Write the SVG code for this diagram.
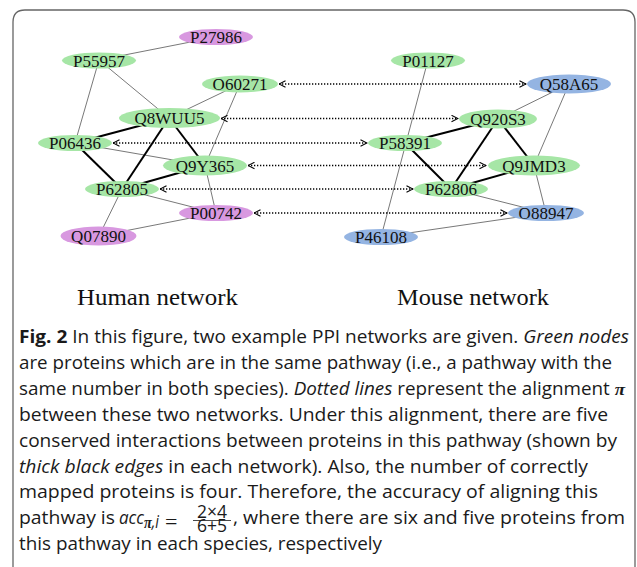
<svg xmlns="http://www.w3.org/2000/svg" width="637" height="567" viewBox="0 0 637 567">
<defs>
<style>
.g{fill:#a6e6a6}
.p{fill:#d898e0}
.b{fill:#94b4e2}
.lbl{font-family:"Liberation Serif","DejaVu Serif",serif;font-size:17px;text-anchor:middle;fill:#111}
.thin{stroke:#555;stroke-width:0.8;fill:none}
.thick{stroke:#000;stroke-width:2;fill:none}
.dot{stroke:#000;stroke-width:1.5;stroke-dasharray:1.3 1.7;fill:none;marker-start:url(#ah);marker-end:url(#ah)}
.net{font-family:"Liberation Serif","DejaVu Serif",serif;font-size:23px;fill:#111}
.cap{font-family:"Open Sans","Noto Sans","Liberation Sans",sans-serif;font-size:17.5px;fill:#1a1a1a}
.it{font-style:italic}
.bd{font-weight:bold}
.mth{font-family:"Liberation Serif",serif;font-weight:bold;font-style:italic}
</style>
<marker id="ah" viewBox="0 0 8 8" refX="7.5" refY="4" markerWidth="8" markerHeight="8" markerUnits="userSpaceOnUse" orient="auto-start-reverse">
<path d="M1,0.8 L7.5,4 L1,7.2" fill="none" stroke="#000" stroke-width="1.1"/>
</marker>
</defs>
<rect width="637" height="567" fill="#fff"/>
<path d="M13,567 V22 Q13,10 25,10 H623 Q635,10 635,22 V567" fill="none" stroke="#666" stroke-width="1.3"/>

<g id="connectors">
<line class="thin" x1="99" y1="60" x2="216" y2="37"/>
<line class="thin" x1="99" y1="60" x2="75" y2="143"/>
<line class="thin" x1="99" y1="60" x2="169" y2="118"/>
<line class="thin" x1="240" y1="84" x2="169" y2="118"/>
<line class="thin" x1="240" y1="84" x2="205" y2="165.5"/>
<line class="thin" x1="205" y1="165.5" x2="216" y2="213"/>
<line class="thin" x1="75" y1="143" x2="205" y2="165.5"/>
<line class="thin" x1="122" y1="189" x2="216" y2="213"/>
<line class="thin" x1="122" y1="189" x2="99" y2="236"/>
<line class="thin" x1="99" y1="236" x2="216" y2="213"/>
<line class="thick" x1="169" y1="118" x2="75" y2="143"/>
<line class="thick" x1="169" y1="118" x2="122" y2="189"/>
<line class="thick" x1="169" y1="118" x2="205" y2="165.5"/>
<line class="thick" x1="75" y1="143" x2="122" y2="189"/>
<line class="thick" x1="205" y1="165.5" x2="122" y2="189"/>
<line class="thin" x1="428" y1="60" x2="381" y2="237"/>
<line class="thin" x1="569" y1="84" x2="498" y2="119"/>
<line class="thin" x1="569" y1="84" x2="534" y2="165.5"/>
<line class="thin" x1="534" y1="165.5" x2="546" y2="213"/>
<line class="thin" x1="451" y1="189" x2="546" y2="213"/>
<line class="thin" x1="381" y1="237" x2="546" y2="213"/>
<line class="thick" x1="498" y1="119" x2="405" y2="143"/>
<line class="thick" x1="498" y1="119" x2="451" y2="189"/>
<line class="thick" x1="498" y1="119" x2="534" y2="165.5"/>
<line class="thick" x1="405" y1="143" x2="451" y2="189"/>
<line class="thick" x1="534" y1="165.5" x2="451" y2="189"/>
<line class="dot" x1="279" y1="84" x2="526" y2="84"/>
<line class="dot" x1="221" y1="118.5" x2="458" y2="118.5"/>
<line class="dot" x1="113" y1="143" x2="367" y2="143"/>
<line class="dot" x1="248" y1="165.5" x2="486" y2="165.5"/>
<line class="dot" x1="160" y1="189" x2="413" y2="189"/>
<line class="dot" x1="254" y1="213" x2="507" y2="213"/>
</g>

<g id="P27986"><ellipse class="p" cx="216" cy="37" rx="37" ry="8"/><text class="lbl" x="216" y="43">P27986</text></g>
<g id="P55957"><ellipse class="g" cx="99" cy="60.5" rx="37" ry="8"/><text class="lbl" x="99" y="66.5">P55957</text></g>
<g id="O60271"><ellipse class="g" cx="240" cy="84" rx="38" ry="8.5"/><text class="lbl" x="240" y="90">O60271</text></g>
<g id="Q8WUU5"><ellipse class="g" cx="169.5" cy="118" rx="50.5" ry="10"/><text class="lbl" x="169.5" y="124">Q8WUU5</text></g>
<g id="P06436"><ellipse class="g" cx="75" cy="143" rx="37" ry="8"/><text class="lbl" x="75" y="149">P06436</text></g>
<g id="Q9Y365"><ellipse class="g" cx="205" cy="165.5" rx="42" ry="10"/><text class="lbl" x="205" y="171.5">Q9Y365</text></g>
<g id="P62805"><ellipse class="g" cx="122" cy="189" rx="37" ry="8"/><text class="lbl" x="122" y="195">P62805</text></g>
<g id="P00742"><ellipse class="p" cx="216" cy="213" rx="37" ry="8"/><text class="lbl" x="216" y="219">P00742</text></g>
<g id="Q07890"><ellipse class="p" cx="98.5" cy="236" rx="38" ry="9.5"/><text class="lbl" x="98.5" y="242">Q07890</text></g>

<g id="P01127"><ellipse class="g" cx="428" cy="60.5" rx="37" ry="8"/><text class="lbl" x="428" y="66.5">P01127</text></g>
<g id="Q58A65"><ellipse class="b" cx="569" cy="84" rx="42" ry="9.5"/><text class="lbl" x="569" y="90">Q58A65</text></g>
<g id="Q920S3"><ellipse class="g" cx="498" cy="119" rx="39" ry="9.5"/><text class="lbl" x="498" y="125">Q920S3</text></g>
<g id="P58391"><ellipse class="g" cx="405" cy="143" rx="37" ry="8"/><text class="lbl" x="405" y="149">P58391</text></g>
<g id="Q9JMD3"><ellipse class="g" cx="534" cy="165.5" rx="46" ry="10"/><text class="lbl" x="534" y="171.5">Q9JMD3</text></g>
<g id="P62806"><ellipse class="g" cx="451" cy="189" rx="37" ry="8"/><text class="lbl" x="451" y="195">P62806</text></g>
<g id="O88947"><ellipse class="b" cx="546" cy="213" rx="38" ry="8"/><text class="lbl" x="546" y="219">O88947</text></g>
<g id="P46108"><ellipse class="b" cx="381" cy="237" rx="37" ry="8"/><text class="lbl" x="381" y="243">P46108</text></g>

<text class="net" x="77" y="305" textLength="161" lengthAdjust="spacingAndGlyphs">Human network</text>
<text class="net" x="397" y="305" textLength="152" lengthAdjust="spacingAndGlyphs">Mouse network</text>

<g id="caption">
<text class="cap" x="19" y="343" textLength="610" lengthAdjust="spacingAndGlyphs"><tspan class="bd">Fig. 2</tspan> In this figure, two example PPI networks are given. <tspan class="it">Green nodes</tspan></text>
<text class="cap" x="19" y="369" textLength="593" lengthAdjust="spacingAndGlyphs">are proteins which are in the same pathway (i.e., a pathway with the</text>
<text class="cap" x="19" y="395" textLength="606" lengthAdjust="spacingAndGlyphs">same number in both species). <tspan class="it">Dotted lines</tspan> represent the alignment <tspan class="mth">π</tspan></text>
<text class="cap" x="19" y="421" textLength="589" lengthAdjust="spacingAndGlyphs">between these two networks. Under this alignment, there are five</text>
<text class="cap" x="19" y="447" textLength="598" lengthAdjust="spacingAndGlyphs">conserved interactions between proteins in this pathway (shown by</text>
<text class="cap" x="19" y="473" textLength="569" lengthAdjust="spacingAndGlyphs"><tspan class="it">thick black edges</tspan> in each network). Also, the number of correctly</text>
<text class="cap" x="19" y="498" textLength="579" lengthAdjust="spacingAndGlyphs">mapped proteins is four. Therefore, the accuracy of aligning this</text>
<text class="cap" x="19" y="524" textLength="96" lengthAdjust="spacingAndGlyphs">pathway is</text>
<text class="cap it" x="119" y="524" font-size="18.5" textLength="25" lengthAdjust="spacingAndGlyphs">acc</text>
<text class="cap it" x="144" y="528" font-size="12.5" textLength="15" lengthAdjust="spacingAndGlyphs"><tspan class="mth">π</tspan>,i</text>
<text x="165" y="529" font-family="Liberation Serif,serif" font-size="22" fill="#1a1a1a">=</text>
<text class="cap" x="212" y="518" font-size="11" text-anchor="middle">2×4</text>
<line x1="193" y1="520.5" x2="231" y2="520.5" stroke="#1a1a1a" stroke-width="0.8"/>
<text class="cap" x="212" y="532" font-size="11" text-anchor="middle">6+5</text>
<text class="cap" x="233" y="524" textLength="392" lengthAdjust="spacingAndGlyphs">, where there are six and five proteins from</text>
<text class="cap" x="19" y="550" textLength="363" lengthAdjust="spacingAndGlyphs">this pathway in each species, respectively</text>
</g>
</svg>
